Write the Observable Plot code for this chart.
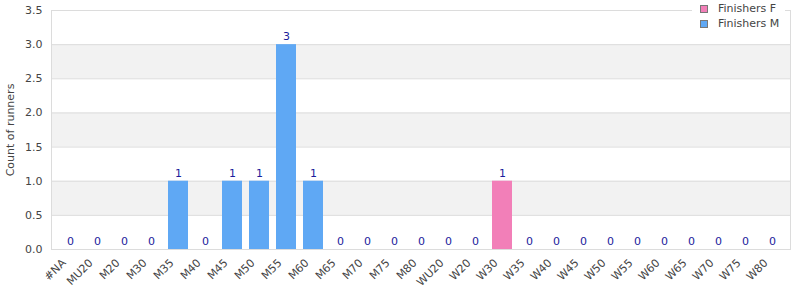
<!DOCTYPE html>
<html><head><meta charset="utf-8">
<script src="https://cdn.jsdelivr.net/npm/d3@7"></script>
<script src="https://cdn.jsdelivr.net/npm/@observablehq/plot@0.6"></script>
<style>
body{margin:0;background:#fff;font-family:"DejaVu Sans",sans-serif;}
#wrap{position:relative;width:800px;height:300px;}
#legend{position:absolute;left:692px;top:0px;width:93px;height:31px;background:#fff;font-size:11px;color:#444;}
#legend .it{position:absolute;left:8px;display:flex;align-items:center;height:13px;}
#legend .sw{width:6px;height:6px;border:1px solid #777;margin-right:10px;}
</style></head>
<body><div id="wrap"><div id="chart"></div><div id="legend"></div></div>
<script>
const categories = ["#NA","MU20","M20","M30","M35","M40","M45","M50","M55","M60","M65","M70","M75","M80","WU20","W20","W30","W35","W40","W45","W50","W55","W60","W65","W70","W75","W80"];
const finishersF = [0,0,0,0,0,0,0,0,0,0,0,0,0,0,0,0,1,0,0,0,0,0,0,0,0,0,0];
const finishersM = [0,0,0,0,1,0,1,1,3,1,0,0,0,0,0,0,0,0,0,0,0,0,0,0,0,0,0];
const seriesNames = ["Finishers F","Finishers M"];
const seriesColors = ["#f27fb8","#5fa8f4"];
const yTicks = [0,0.5,1,1.5,2,2.5,3,3.5];

const rows = [];
categories.forEach((c,i)=>{
  rows.push({cat:c, series:seriesNames[0], value:finishersF[i]});
  rows.push({cat:c, series:seriesNames[1], value:finishersM[i]});
});
const totals = categories.map((c,i)=>({cat:c, total:finishersF[i]+finishersM[i]}));
const bands = [];
for (let i=1;i<yTicks.length-1;i+=2) bands.push({y1:yTicks[i], y2:yTicks[i+1]});

const chart = Plot.plot({
  width:800, height:300,
  marginLeft:51, marginRight:10, marginTop:10, marginBottom:51,
  style:{fontFamily:"DejaVu Sans, sans-serif", fontSize:"11px", color:"#444", background:"#fff"},
  x:{domain:categories, paddingInner:0.27, paddingOuter:0.135, label:null, axis:null},
  y:{domain:[0,3.5], label:null},
  color:{domain:seriesNames, range:seriesColors},
  marks:[
    Plot.rectY(bands,{y1:"y1", y2:"y2", fill:"#f2f2f2"}),
    Plot.gridY(yTicks,{stroke:"#dcdcdc", strokeOpacity:1}),
    Plot.frame({stroke:"#dcdcdc"}),
    Plot.barY(rows,{x:"cat", y:"value", fill:"series"}),
    Plot.text(totals,{x:"cat", y:"total", text:d=>String(d.total), dy:-8, fill:"#1c1c9c", fontSize:11}),
    Plot.ruleY([0],{stroke:"#dcdcdc"}),
    Plot.axisY(yTicks,{tickFormat:d3.format(".1f"), tickSize:0, tickPadding:9, fill:"#444", label:"Count of runners", labelAnchor:"center", labelArrow:false, labelOffset:45}),
    Plot.text(categories,{x:d=>d, frameAnchor:"bottom", rotate:-45, textAnchor:"end", lineAnchor:"bottom", dx:-4, dy:14, fill:"#444", fontSize:11})
  ]
});
document.getElementById("chart").appendChild(chart);

const lg = document.getElementById("legend");
seriesNames.forEach((n,i)=>{
  const d=document.createElement("div"); d.className="it"; d.style.top=(2+i*15)+"px";
  d.innerHTML=`<span class="sw" style="background:${seriesColors[i]}"></span><span>${n}</span>`;
  lg.appendChild(d);
});
</script></body></html>
